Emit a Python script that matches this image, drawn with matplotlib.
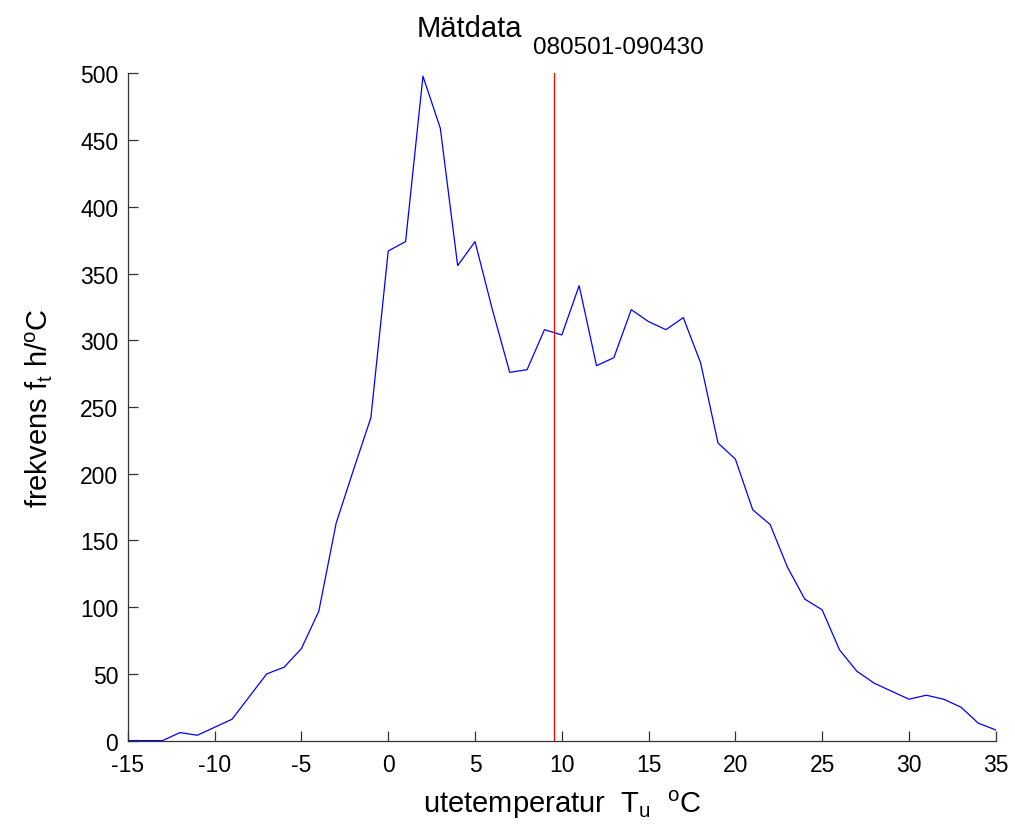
import matplotlib
matplotlib.use("Agg")
import matplotlib.pyplot as plt

plt.rcParams["font.family"] = ["Liberation Sans", "DejaVu Sans"]
plt.rcParams["mathtext.fontset"] = "custom"
plt.rcParams["mathtext.rm"] = "Liberation Sans"
plt.rcParams["mathtext.it"] = "Liberation Sans"
plt.rcParams["axes.unicode_minus"] = False

# outdoor temperature bins (deg C) and hours per degree
temps = list(range(-15, 36))
freq = [0, 0, 0, 6, 4, 10, 16, 33, 50, 55, 69, 97, 163, 203, 242,
        367, 374, 498, 459, 356, 374, 323, 276, 278, 308, 304,
        341, 281, 287, 323, 314, 308, 317, 283, 223, 211,
        173, 162, 130, 106, 98, 68, 52, 43, 37, 31, 34, 31, 25, 13, 8]
mean_temp = 9.55

fig = plt.figure(figsize=(10.15, 8.37), dpi=100)
ax = fig.add_axes([0.126, 0.114, 0.855, 0.797])

ax.plot(temps, freq, color="blue", lw=0.9)
ax.plot([mean_temp, mean_temp], [0, 500], color="red", lw=0.9)

ax.set_xlim(-15, 35)
ax.set_ylim(0, 500)
ax.set_xticks(range(-15, 36, 5))
ax.set_yticks(range(0, 501, 50))

for side in ("top", "right"):
    ax.spines[side].set_visible(False)
for side in ("left", "bottom"):
    ax.spines[side].set_color("#333333")
    ax.spines[side].set_linewidth(0.9)
ax.tick_params(direction="in", length=7, width=0.9, color="#333333",
               labelsize=16.5)
ax.tick_params(axis="y", pad=7)
ax.tick_params(axis="x", pad=9)

ax.set_xlabel(r"utetemperatur  T$_{\mathrm{u}}$  $^{\mathrm{o}}$C", fontsize=21, labelpad=8)
ax.set_ylabel(r"frekvens f$_{\mathrm{t}}$ h/$^{\mathrm{o}}$C", fontsize=21, labelpad=18)

fig.text(0.514, 0.956, "Mätdata", ha="right", va="baseline", fontsize=21)
fig.text(0.525, 0.9355, "080501-090430", ha="left", va="baseline", fontsize=17.5)

fig.savefig("out.png", dpi=100)
